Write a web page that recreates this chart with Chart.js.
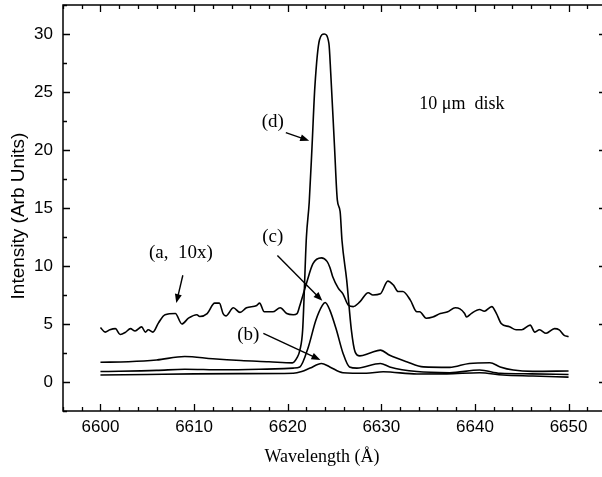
<!DOCTYPE html>
<html>
<head>
<meta charset="utf-8">
<script src="https://cdn.jsdelivr.net/npm/chart.js@4.4.0/dist/chart.umd.min.js"></script>
<style>
  html, body { margin: 0; padding: 0; background: #fff; overflow: hidden; }
  #wrap { position: relative; width: 610px; height: 477px; }
</style>
</head>
<body>
<div id="wrap"><canvas id="chart"></canvas></div>
<script>
// curve (a), shown 10x
const lambdaA = [6600.0, 6600.5, 6601.0, 6601.6, 6602.1, 6602.7, 6603.2, 6603.7, 6604.4, 6604.8, 6605.1, 6605.6, 6606.2, 6606.9, 6608.0, 6608.7, 6609.4, 6610.3, 6610.6, 6611.4, 6612.2, 6612.7, 6613.1, 6613.4, 6614.2, 6614.9, 6615.6, 6616.7, 6617.0, 6617.5, 6618.4, 6619.2, 6619.9, 6620.6, 6621.0, 6621.3, 6622.0, 6622.7, 6623.6, 6624.2, 6624.5, 6624.8, 6625.4, 6625.9, 6626.5, 6627.0, 6627.7, 6628.6, 6629.1, 6629.9, 6630.7, 6631.3, 6631.8, 6632.3, 6633.1, 6633.8, 6634.1, 6634.8, 6635.5, 6636.3, 6637.1, 6637.9, 6638.4, 6638.9, 6639.1, 6639.6, 6640.5, 6641.0, 6641.8, 6642.3, 6642.8, 6643.7, 6644.4, 6645.0, 6645.9, 6646.4, 6646.9, 6647.6, 6648.5, 6649.0, 6649.5, 6650.0];
const intensA = [4.7, 4.3, 4.5, 4.6, 4.1, 4.3, 4.6, 4.4, 4.75, 4.3, 4.5, 4.3, 5.1, 5.8, 5.9, 5.0, 5.5, 5.8, 5.65, 5.9, 6.8, 6.8, 5.9, 5.7, 6.4, 6.0, 6.4, 6.6, 6.8, 6.05, 6.05, 6.4, 5.9, 5.8, 5.9, 6.6, 8.5, 10.2, 10.7, 10.4, 9.9, 9.1, 8.1, 7.6, 6.6, 6.5, 6.9, 7.7, 7.5, 7.6, 8.7, 8.35, 7.8, 7.8, 7.06, 6.05, 6.05, 5.5, 5.6, 5.9, 6.05, 6.4, 6.3, 5.9, 5.6, 5.9, 6.25, 6.1, 6.5, 5.9, 5.05, 4.76, 4.5, 4.5, 4.9, 4.3, 4.5, 4.2, 4.6, 4.5, 4.05, 3.9];

// curve (b)
const lambdaB = [6600, 6605, 6610, 6615, 6620.6, 6621.5, 6622.4, 6623.6, 6624.5, 6625.9, 6628.4, 6630.2, 6633.8, 6637, 6640.5, 6643, 6646.2, 6650];
const intensB = [0.6, 0.65, 0.7, 0.72, 0.75, 0.9, 1.2, 1.6, 1.3, 0.8, 0.75, 0.89, 0.69, 0.7, 0.8, 0.6, 0.52, 0.42];

// curve (c)
const lambdaC = [6600, 6606, 6609, 6613, 6617, 6620.6, 6621.3, 6622.2, 6623.0, 6623.7, 6624.0, 6624.5, 6625.2, 6625.9, 6626.6, 6627.4, 6629.9, 6630.9, 6633.8, 6637.3, 6640.5, 6642.7, 6646, 6650];
const intensC = [0.9, 1.0, 1.1, 1.05, 1.1, 1.2, 1.3, 3.0, 5.3, 6.6, 6.85, 6.2, 4.5, 2.5, 1.3, 1.2, 1.6, 1.3, 0.9, 0.8, 1.03, 0.75, 0.7, 0.65];

// curve (d)
const lambdaD = [6600, 6603, 6606, 6609, 6612, 6615, 6618, 6620.5, 6621.0, 6621.3, 6621.6, 6622.0, 6622.3, 6622.6, 6622.9, 6623.4, 6623.9, 6624.4, 6624.6, 6625.0, 6625.3, 6625.6, 6625.8, 6626.3, 6626.8, 6627.2, 6627.7, 6628.8, 6629.9, 6630.9, 6632.7, 6634.5, 6637.3, 6639.4, 6641.6, 6642.7, 6644.1, 6646.2, 6650];
const intensD = [1.7, 1.75, 1.9, 2.2, 2.0, 1.85, 1.75, 1.65, 2.1, 2.75, 4.5, 12.5, 15.5, 20.3, 25.4, 29.5, 30.0, 29.2, 26.6, 20.3, 15.7, 14.7, 12.2, 8.8, 4.5, 2.6, 2.25, 2.5, 2.75, 2.3, 1.75, 1.3, 1.26, 1.6, 1.66, 1.3, 1.03, 0.92, 0.95];

const xTitle = "Wavelength (Å)";
const yTitle = "Intensity (Arb Units)";

// annotation texts and their anchors in data units [wavelength, intensity]
const noteTexts = ["(a,  10x)", "(b)", "(c)", "(d)", "10 \u03bcm  disk"];
const noteAt = [[6608.6, 11.1], [6615.8, 4.05], [6618.4, 12.5], [6618.4, 22.4], [6638.6, 23.9]];
const arrowFrom = [[6608.8, 9.2], [6617.4, 4.2], [6618.9, 10.9], [6619.8, 21.5], null];
const arrowTo = [[6608.1, 6.8], [6623.5, 1.9], [6623.7, 7.0], [6622.3, 20.8], null];

function toPoints(xs, ys) {
  return xs.map((v, i) => ({ x: v, y: ys[i] }));
}

function curve(xs, ys) {
  return {
    data: toPoints(xs, ys),
    borderColor: "#000",
    borderWidth: 1.6,
    pointRadius: 0,
    fill: false,
    cubicInterpolationMode: "monotone"
  };
}

const sans = "'Liberation Sans', Arial, sans-serif";
const serif = "'Liberation Serif', 'Times New Roman', serif";

// frame, inward ticks, titles and notes
const extras = {
  id: "extras",
  afterDraw(chart) {
    const { ctx, chartArea: a, scales: { x, y } } = chart;
    ctx.save();
    ctx.strokeStyle = "#000";
    ctx.lineWidth = 1.5;
    ctx.strokeRect(a.left, a.top, a.right - a.left, a.bottom - a.top);

    ctx.beginPath();
    x.ticks.forEach((t) => {
      const px = Math.round(x.getPixelForValue(t.value)) + 0.5;
      const len = t.value % 10 === 0 ? 7 : 4;
      ctx.moveTo(px, a.bottom); ctx.lineTo(px, a.bottom - len);
      ctx.moveTo(px, a.top); ctx.lineTo(px, a.top + len);
    });
    y.ticks.forEach((t) => {
      const py = Math.round(y.getPixelForValue(t.value)) + 0.5;
      const len = t.value % 5 === 0 ? 7 : 4;
      ctx.moveTo(a.left, py); ctx.lineTo(a.left + len, py);
      ctx.moveTo(a.right, py); ctx.lineTo(a.right - len, py);
    });
    ctx.lineWidth = 1.3;
    ctx.stroke();

    ctx.fillStyle = "#000";
    ctx.textAlign = "center";
    ctx.textBaseline = "middle";
    ctx.font = "18px " + serif;
    ctx.fillText(xTitle, 322, 457);

    ctx.save();
    ctx.translate(18.5, 216);
    ctx.rotate(-Math.PI / 2);
    ctx.font = "19px " + sans;
    ctx.fillText(yTitle, 0, 0);
    ctx.restore();

    noteTexts.forEach((txt, i) => {
      const [lx, ly] = noteAt[i];
      ctx.font = (i === 4 ? "18px " : "19px ") + serif;
      ctx.fillText(txt, x.getPixelForValue(lx), y.getPixelForValue(ly));
      if (!arrowFrom[i]) return;
      const x0 = x.getPixelForValue(arrowFrom[i][0]);
      const y0 = y.getPixelForValue(arrowFrom[i][1]);
      const x1 = x.getPixelForValue(arrowTo[i][0]);
      const y1 = y.getPixelForValue(arrowTo[i][1]);
      const ang = Math.atan2(y1 - y0, x1 - x0);
      const hl = 9, hw = 3.5;
      ctx.lineWidth = 1.4;
      ctx.beginPath();
      ctx.moveTo(x0, y0);
      ctx.lineTo(x1 - Math.cos(ang) * hl * 0.8, y1 - Math.sin(ang) * hl * 0.8);
      ctx.stroke();
      ctx.beginPath();
      ctx.moveTo(x1, y1);
      ctx.lineTo(x1 - Math.cos(ang) * hl - Math.sin(ang) * hw, y1 - Math.sin(ang) * hl + Math.cos(ang) * hw);
      ctx.lineTo(x1 - Math.cos(ang) * hl + Math.sin(ang) * hw, y1 - Math.sin(ang) * hl - Math.cos(ang) * hw);
      ctx.closePath();
      ctx.fill();
    });
    ctx.restore();
  }
};

new Chart(document.getElementById("chart"), {
  type: "line",
  data: {
    datasets: [
      curve(lambdaA, intensA),
      curve(lambdaB, intensB),
      curve(lambdaC, intensC),
      curve(lambdaD, intensD)
    ]
  },
  options: {
    responsive: true,
    maintainAspectRatio: false,
    animation: false,
    layout: { padding: { top: 5, right: 4, left: 0, bottom: 0 } },
    plugins: {
      legend: { display: false },
      tooltip: { enabled: false }
    },
    scales: {
      x: {
        type: "linear",
        min: 6596,
        max: 6654,
        grid: { display: false, drawTicks: false },
        border: { display: false },
        ticks: {
          stepSize: 2,
          autoSkip: false,
          maxRotation: 0,
          padding: 6,
          color: "#000",
          font: { family: sans, size: 17 },
          callback: (v) => (v % 10 === 0 ? String(v) : "")
        },
        afterFit: (s) => { s.height = 66; s.paddingLeft = 0; s.paddingRight = 0; }
      },
      y: {
        min: -2.5,
        max: 32.5,
        grid: { display: false, drawTicks: false },
        border: { display: false },
        ticks: {
          stepSize: 2.5,
          autoSkip: false,
          padding: 10,
          color: "#000",
          font: { family: sans, size: 17 },
          callback: (v) => (v % 5 === 0 ? String(v) : "")
        },
        afterFit: (s) => { s.width = 63; s.paddingTop = 0; s.paddingBottom = 0; }
      }
    }
  },
  plugins: [extras]
});
</script>
</body>
</html>
